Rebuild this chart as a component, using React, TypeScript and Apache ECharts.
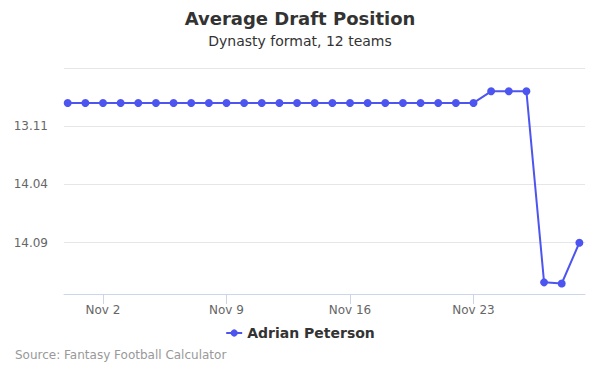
import React, { useEffect, useRef } from "react";
import * as echarts from "echarts";

const dates: string[] = [
  "2018-10-31", "2018-11-01", "2018-11-02", "2018-11-03", "2018-11-04", "2018-11-05",
  "2018-11-06", "2018-11-07", "2018-11-08", "2018-11-09", "2018-11-10", "2018-11-11",
  "2018-11-12", "2018-11-13", "2018-11-14", "2018-11-15", "2018-11-16", "2018-11-17",
  "2018-11-18", "2018-11-19", "2018-11-20", "2018-11-21", "2018-11-22", "2018-11-23",
  "2018-11-24", "2018-11-25", "2018-11-26", "2018-11-27", "2018-11-28", "2018-11-29",
];
// overall pick number (12-team league)
const adpValues: number[] = [
  153, 153, 153, 153, 153, 153,
  153, 153, 153, 153, 153, 153,
  153, 153, 153, 153, 153, 153,
  153, 153, 153, 153, 153, 153,
  152, 152, 152, 168.4, 168.5, 165,
];
const xLabelDates: string[] = ["2018-11-02", "2018-11-09", "2018-11-16", "2018-11-23"];
const seriesName = "Adrian Peterson";
const teams = 12;

const DAY = 86400000;
const ts = (d: string) => Date.parse(d + "T00:00:00Z");
const MONTHS = ["Jan", "Feb", "Mar", "Apr", "May", "Jun", "Jul", "Aug", "Sep", "Oct", "Nov", "Dec"];
const FONT = "DejaVu Sans, sans-serif";

function fmtPick(v: number): string {
  const r = Math.floor((v - 1) / teams) + 1;
  const p = ((v - 1) % teams) + 1;
  return `${r}.${String(p).padStart(2, "0")}`;
}

export default function App() {
  const ref = useRef<HTMLDivElement>(null);
  useEffect(() => {
    document.body.style.margin = "0";
    if (!ref.current) return;
    const chart = echarts.init(ref.current, null, { renderer: "svg" });
    const color = "#4d55f0";
    chart.setOption({
      animation: false,
      title: [
        {
          text: "Average Draft Position",
          left: "center",
          top: 4,
          textStyle: { fontFamily: FONT, fontSize: 18, fontWeight: "bold", color: "#333333" },
        },
        {
          text: "Dynasty format, 12 teams",
          left: "center",
          top: 29,
          textStyle: { fontFamily: FONT, fontSize: 14, fontWeight: "normal", color: "#333333" },
        },
      ],
      legend: {
        top: 321,
        left: "center",
        itemWidth: 16,
        itemHeight: 9,
        itemGap: 5,
        textStyle: { fontFamily: FONT, fontSize: 14, fontWeight: "bold", color: "#333333" },
        data: [seriesName],
      },
      grid: {
        left: 64,
        right: 15,
        top: 68,
        bottom: 81,
        containLabel: false,
        outerBoundsMode: "none",
      },
      xAxis: {
        type: "value",
        min: ts("2018-10-31") - 0.21 * DAY,
        max: ts("2018-11-29") + 0.32 * DAY,
        axisLine: { show: true, lineStyle: { color: "#ccd6eb", width: 1 } },
        axisTick: {
          show: true,
          length: 10,
          lineStyle: { color: "#ccd6eb" },
          customValues: xLabelDates.map(ts),
        },
        splitLine: { show: false },
        axisLabel: {
          fontFamily: FONT,
          fontSize: 12,
          color: "#666666",
          margin: 10,
          customValues: xLabelDates.map(ts),
          formatter: (v: number) => {
            const d = new Date(v);
            return `${MONTHS[d.getUTCMonth()]} ${d.getUTCDate()}`;
          },
        },
      },
      yAxis: {
        type: "value",
        inverse: true,
        min: 150,
        max: 169.4,
        interval: 5,
        axisLine: { show: false },
        axisTick: { show: false },
        splitLine: { show: true, lineStyle: { color: "#e6e6e6", width: 1 } },
        axisLabel: {
          fontFamily: FONT,
          fontSize: 12,
          color: "#666666",
          margin: 16,
          showMinLabel: false,
          showMaxLabel: false,
          formatter: (v: number) => (Math.abs(v % 5) < 1e-6 ? fmtPick(v) : ""),
        },
      },
      series: [
        {
          name: seriesName,
          type: "line",
          data: dates.map((d, i) => [ts(d), adpValues[i]]),
          symbol: "circle",
          symbolSize: 8,
          showSymbol: true,
          lineStyle: { color, width: 2 },
          itemStyle: { color },
        },
      ],
      graphic: [
        {
          type: "text",
          left: 15,
          top: 349,
          style: {
            text: "Source: Fantasy Football Calculator",
            fontFamily: FONT,
            fontSize: 12,
            fill: "#999999",
          },
        },
      ],
    });
    return () => chart.dispose();
  }, []);
  return <div ref={ref} style={{ width: 600, height: 375 }} />;
}
